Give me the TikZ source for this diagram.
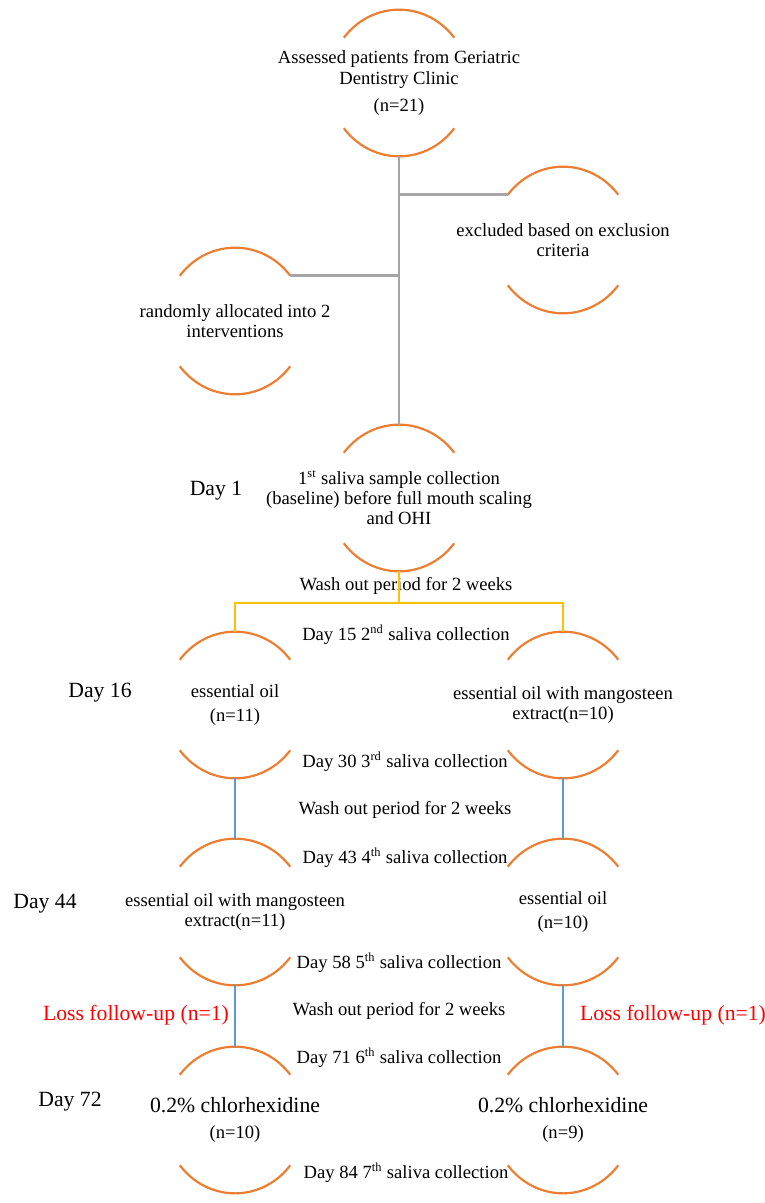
\documentclass[tikz,border=0pt]{standalone}
\usepackage{fontspec}
\setmainfont{Liberation Serif}
\usetikzlibrary{positioning,calc}
\definecolor{arcorange}{HTML}{ED7D31}
\definecolor{trunkgray}{HTML}{A5A5A5}
\definecolor{washyellow}{HTML}{FFC000}
\definecolor{armblue}{HTML}{5B9BD5}
\definecolor{lossred}{HTML}{FF0000}
\tikzset{
  stagenode/.style={minimum width=90pt,minimum height=94.2pt,inner sep=0pt,align=center,font=\fontsize{12}{13}\selectfont},
  daynode/.style={font=\fontsize{14}{16}\selectfont},
  salivanode/.style={font=\fontsize{12}{13}\selectfont},
  lossnode/.style={font=\fontsize{14}{16}\selectfont,text=lossred},
  arcline/.style={draw=arcorange,line width=1.4pt},
  trunk/.style={draw=trunkgray,line width=1.9pt},
  washline/.style={draw=washyellow,line width=1.5pt},
  armline/.style={draw=armblue,line width=1.5pt}
}

\begin{document}
\begin{tikzpicture}[x=0.645pt,y=0.645pt]
  \useasboundingbox (0,0) rectangle (765,-1203);

  \node[stagenode] (assess) at (399,-83) {Assessed patients from Geriatric\\Dentistry Clinic\\[4.5pt](n=21)};
  \node[stagenode] (excl) at (563,-240) {excluded based on exclusion\\criteria};
  \node[stagenode] (alloc) at (235,-321) {randomly allocated into 2\\interventions};
  \node[stagenode] (base) at (399,-498) {1\textsuperscript{st} saliva sample collection\\(baseline) before full mouth scaling\\and OHI};

  % first period
  \node[stagenode] (eo1) at (235,-705) {essential oil\\[3pt](n=11)};
  \node[stagenode] (mg1) at (563,-705) {essential oil with mangosteen\\extract(n=10)};

  % second period
  \node[stagenode] (mg2) at (235,-912) {essential oil with mangosteen\\extract(n=11)};
  \node[stagenode] (eo2) at (563,-912) {essential oil\\[2.5pt](n=10)};

  % third period
  \node[stagenode] (chx1) at (235,-1120) {{\fontsize{14}{16}\selectfont 0.2\% chlorhexidine}\\[4pt](n=10)};
  \node[stagenode] (chx2) at (563,-1120) {{\fontsize{14}{16}\selectfont 0.2\% chlorhexidine}\\[4pt](n=9)};

  % day labels
  \node[daynode] (day1) at (216,-491) {Day 1};
  \node[daynode] (day16) at (100,-693) {Day 16};
  \node[daynode] (day44) at (45,-904) {Day 44};
  \node[daynode] (day72) at (70,-1102) {Day 72};

  % saliva collections and wash out
  \node[salivanode] (wash1) at (406,-586) {Wash out period for 2 weeks};
  \node[salivanode] (col2) at (406,-635) {Day 15 2\textsuperscript{nd} saliva collection};
  \node[salivanode] (col3) at (405,-762) {Day 30 3\textsuperscript{rd} saliva collection};
  \node[salivanode] (wash2) at (405,-810) {Wash out period for 2 weeks};
  \node[salivanode] (col4) at (405,-858) {Day 43 4\textsuperscript{th} saliva collection};
  \node[salivanode] (col5) at (399,-963) {Day 58 5\textsuperscript{th} saliva collection};
  \node[salivanode] (wash3) at (399,-1011) {Wash out period for 2 weeks};
  \node[salivanode] (col6) at (399,-1058) {Day 71 6\textsuperscript{th} saliva collection};
  \node[salivanode] (col7) at (406,-1173) {Day 84 7\textsuperscript{th} saliva collection};

  \node[lossnode] (loss1) at (136,-1015) {Loss follow-up (n=1)};
  \node[lossnode] (loss2) at (673,-1015) {Loss follow-up (n=1)};

  % orange top and bottom arcs of every stage
  \foreach \n in {assess,excl,alloc,base,eo1,mg1,mg2,eo2,chx1,chx2}{
    \draw[arcline] ([shift={(-35.6pt,-18.1pt)}]\n.north) coordinate (\n-tl)
      arc[start angle=142,end angle=38,x radius=45.2pt,y radius=47.1pt] coordinate (\n-tr);
    \draw[arcline] ([shift={(-35.6pt,18.1pt)}]\n.south) coordinate (\n-bl)
      arc[start angle=218,end angle=322,x radius=45.2pt,y radius=47.1pt] coordinate (\n-br);
  }

  % screening
  \draw[trunk] (assess.south) -- (base.north);
  \draw[trunk] (excl-tl) -- (excl-tl -| assess.south);
  \draw[trunk] (alloc-tr) -- (alloc-tr -| assess.south);

  % split into two arms
  \coordinate (split) at ($(base.south)+(0,-31.7)$);
  \draw[washline] (base.south) -- (split);
  \draw[washline] (eo1.north) |- (split) -| (mg1.north);

  % cross-over
  \draw[armline] (eo1.south) -- (mg2.north);
  \draw[armline] (mg1.south) -- (eo2.north);
  \draw[armline] (mg2.south) -- (chx1.north);
  \draw[armline] (eo2.south) -- (chx2.north);
\end{tikzpicture}
\end{document}
